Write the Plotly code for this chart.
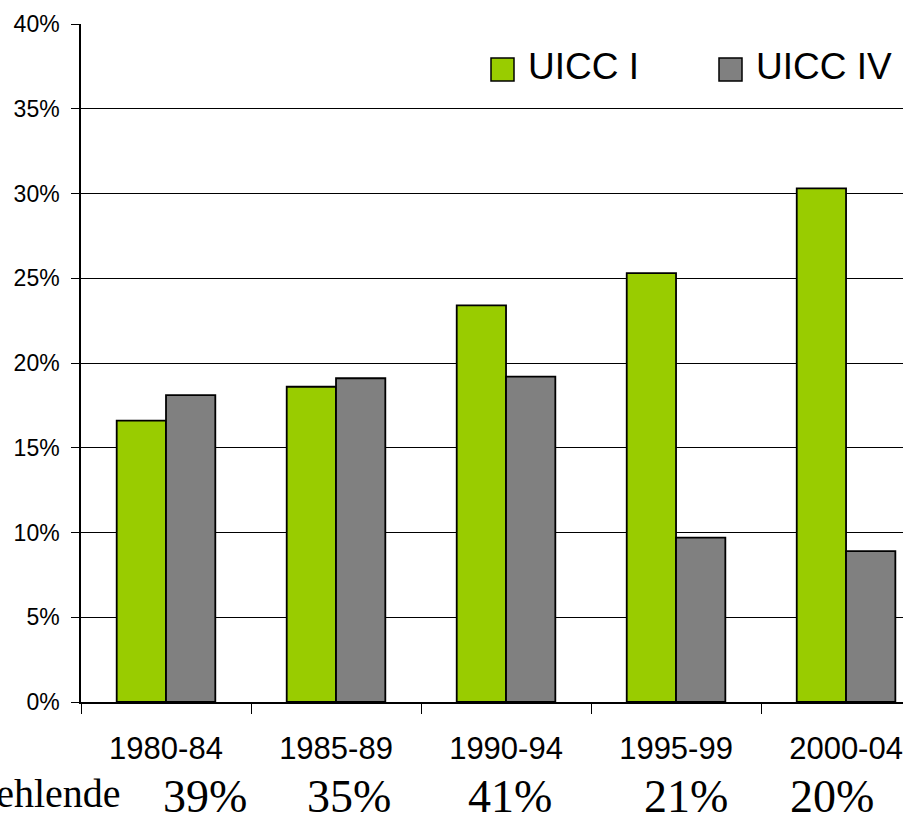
import plotly.graph_objects as go

# ---- data ----
periods = ["1980-84", "1985-89", "1990-94", "1995-99", "2000-04"]
uicc_i = [16.6, 18.6, 23.4, 25.3, 30.3]
uicc_iv = [18.1, 19.1, 19.2, 9.7, 8.9]
missing = ["39%", "35%", "41%", "21%", "20%"]
missing_label = "Fehlende"
series_names = ["UICC I", "UICC IV"]
y_ticks = [0, 5, 10, 15, 20, 25, 30, 35, 40]

GREEN = "#99CC00"
GRAY = "#808080"

W, H = 903, 813
L, R, T, B = 81, 0, 24, 111
PW, PH = W - L - R, H - T - B


def px(x):
    return (x - L) / PW


def py(y):
    return (H - B - y) / PH


fig = go.Figure()
fig.add_trace(go.Bar(x=periods, y=uicc_i, name=series_names[0],
                     marker=dict(color=GREEN, line=dict(color="black", width=1.8)),
                     showlegend=False))
fig.add_trace(go.Bar(x=periods, y=uicc_iv, name=series_names[1],
                     marker=dict(color=GRAY, line=dict(color="black", width=1.8)),
                     showlegend=False))

# legend drawn manually (large keys)
for name, col, sx, tx in [(series_names[0], GREEN, 491, 526), (series_names[1], GRAY, 719, 754)]:
    fig.add_shape(type="rect", xref="paper", yref="paper",
                  x0=px(sx), x1=px(sx + 23), y0=py(81), y1=py(58),
                  fillcolor=col, line=dict(color="black", width=1.5))
    fig.add_annotation(xref="paper", yref="paper", x=px(tx), y=py(67),
                       xanchor="left", yanchor="middle", showarrow=False,
                       text=name, font=dict(family="Liberation Sans, Arial", size=37, color="black"))

# missing-data row
shifts = [39, 13, 4, 10, -14]
for p, m, s in zip(periods, missing, shifts):
    fig.add_annotation(xref="x", yref="paper", x=p, xshift=s, y=py(796),
                       xanchor="center", yanchor="middle", showarrow=False,
                       text=m, font=dict(family="Liberation Serif, Times New Roman", size=46, color="black"))
fig.add_annotation(xref="paper", yref="paper", x=px(123), y=py(794),
                   xanchor="right", yanchor="middle", showarrow=False,
                   text=missing_label, font=dict(family="Liberation Serif, Times New Roman", size=40, color="black"))

fig.update_layout(
    width=W, height=H,
    margin=dict(l=L, r=R, t=T, b=B),
    paper_bgcolor="white", plot_bgcolor="white",
    barmode="group", bargap=0.42, bargroupgap=0,
    font=dict(family="Liberation Sans, Arial", color="black"),
)
fig.update_xaxes(
    type="category", range=[-0.5, 4.335],
    showline=True, linecolor="black", linewidth=1.5,
    ticks="outside", tickson="boundaries", ticklen=10, tickcolor="black", tickwidth=1,
    tickfont=dict(size=31), ticklabelstandoff=18,
    showgrid=False,
)
fig.update_yaxes(
    range=[0, 40], tickvals=y_ticks, ticktext=[f"{v}%" for v in y_ticks],
    showline=True, linecolor="black", linewidth=1.5,
    ticks="outside", ticklen=8, tickcolor="black", tickwidth=1,
    tickfont=dict(size=23), ticklabelstandoff=7,
    showgrid=True, gridcolor="black", gridwidth=1, zeroline=False,
)

fig.write_html("out.html", config={"displayModeBar": False},
               post_script="document.body.style.margin='0px';document.body.style.overflow='hidden';")
